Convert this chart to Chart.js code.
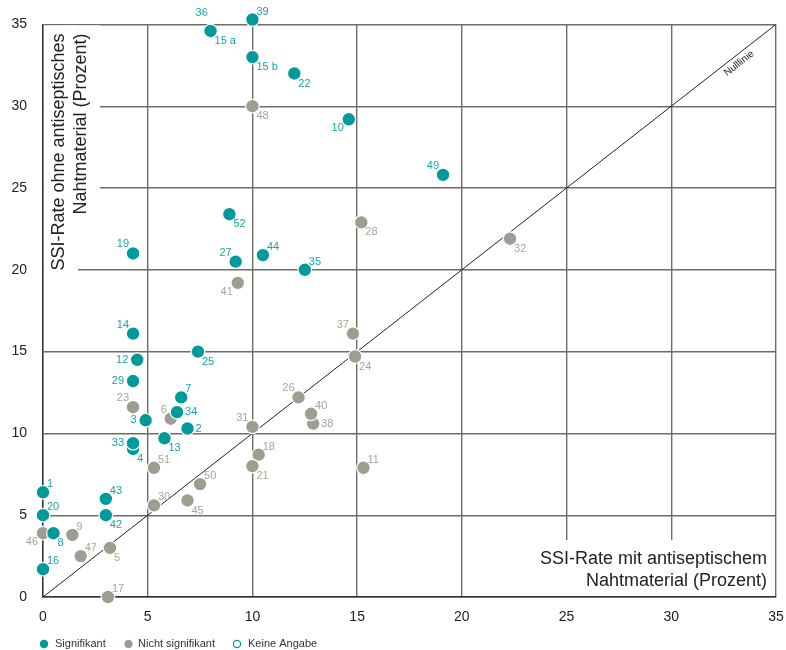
<!DOCTYPE html>
<html>
<head>
<meta charset="utf-8">
<script src="https://cdn.jsdelivr.net/npm/chart.js@4.4.0/dist/chart.umd.min.js"></script>
<style>
  html, body { margin: 0; padding: 0; background: #fff; }
</style>
</head>
<body>
<canvas id="ssiChart" width="786" height="650"></canvas>
<script>
// significant studies (teal)
const sigNames = ['39','15 a','15 b','22','10','49','52','19','27','44','35','14','25','12','29','7','34','3','2','13','4','33','1','43','20','42','8','16'];
const sigX = [10.0, 8.0, 10.0, 12.0, 14.6, 19.1, 8.9, 4.3, 9.2, 10.5, 12.5, 4.3, 7.4, 4.5, 4.3, 6.6, 6.4, 4.9, 6.9, 5.8, 4.3, 4.3, 0, 3.0, 0, 3.0, 0.5, 0];
const sigY = [35.3, 34.6, 33.0, 32.0, 29.2, 25.8, 23.4, 21.0, 20.5, 20.9, 20.0, 16.1, 15.0, 14.5, 13.2, 12.2, 11.3, 10.8, 10.3, 9.7, 9.05, 9.4, 6.4, 6.0, 5.0, 5.0, 3.9, 1.7];
// not significant (grey)
const nsNames = ['48','28','32','41','37','24','23','6','26','38','40','31','18','21','51','11','50','30','45','9','46','47','5','17'];
const nsX = [10.0, 15.2, 22.3, 9.3, 14.8, 14.9, 4.3, 6.1, 12.2, 12.9, 12.8, 10.0, 10.3, 10.0, 5.3, 15.3, 7.5, 5.3, 6.9, 1.4, 0, 1.8, 3.2, 3.1];
const nsY = [30.0, 22.9, 21.9, 19.2, 16.1, 14.7, 11.6, 10.9, 12.2, 10.6, 11.2, 10.4, 8.7, 8.0, 7.9, 7.9, 6.9, 5.6, 5.9, 3.8, 3.9, 2.5, 3.0, 0];
// no information (open circle)
const naNames = ['36'];
const naX = [8.3];
const naY = [35.7];

const axisTicks = [0, 5, 10, 15, 20, 25, 30, 35];

// where each label sits next to its dot
const sigPos = ['ne','se','se','se','sw','nw','se','nw','nw','ne','ne','nw','se','w','w','ne','e','w','e','se','se','w','ne','ne','ne','se','se','ne'];
const nsPos = ['se','se','se','sw','nw','se','nw','nw','nw','e','ne','nw','ne','se','ne','ne','ne','ne','se','ne','sw','ne','se','ne'];
const naPos = ['w'];

const teal = '#009a9a';
const tealText = '#17a7a7';
const grey = '#9e9d8f';
const greyText = '#a6a597';
const gridCol = '#6d6d66';
const fontFam = '"Liberation Sans", Arial, Helvetica, sans-serif';

function pts(xs, ys) {
  return xs.map((x, i) => ({ x: x, y: ys[i] }));
}

const offsets = {
  ne: { a: 'left', dx: 4, dy: -8 },
  se: { a: 'left', dx: 4, dy: 10 },
  nw: { a: 'right', dx: -4, dy: -9 },
  sw: { a: 'right', dx: -5, dy: 9 },
  e:  { a: 'left', dx: 8, dy: 0 },
  w:  { a: 'right', dx: -9, dy: 0 }
};

const overlayPlugin = {
  id: 'overlay',
  beforeDatasetsDraw(chart) {
    const ctx = chart.ctx;
    const area = chart.chartArea;
    ctx.save();
    ctx.font = '18px ' + fontFam;
    // y title, rotated, white box behind each line
    const yLines = ['SSI-Rate ohne antiseptisches', 'Nahtmaterial (Prozent)'];
    const yCenters = [59, 81];
    const topEnd = area.top + 9;
    yLines.forEach((t, i) => {
      const w = ctx.measureText(t).width;
      ctx.fillStyle = '#fff';
      const x0 = Math.max(area.left + 1, yCenters[i] - 18);
      ctx.fillRect(x0, topEnd - 8, yCenters[i] + 19 - x0, w + 16);
    });
    yLines.forEach((t, i) => {
      ctx.save();
      ctx.translate(yCenters[i], topEnd);
      ctx.rotate(-Math.PI / 2);
      ctx.fillStyle = '#222';
      ctx.textAlign = 'right';
      ctx.textBaseline = 'middle';
      ctx.fillText(t, 0, 0);
      ctx.restore();
    });
    // x title, bottom right
    const xLines = ['SSI-Rate mit antiseptischem', 'Nahtmaterial (Prozent)'];
    const xCenters = [559, 581];
    const rightEnd = area.right - 9;
    xLines.forEach((t, i) => {
      const w = ctx.measureText(t).width;
      ctx.fillStyle = '#fff';
      const top = i === 0 ? 540 : xCenters[i] - 12;
      ctx.fillRect(rightEnd - w - 8, top, area.right - 1 - (rightEnd - w - 8), area.bottom - 1 - top);
    });
    xLines.forEach((t, i) => {
      ctx.fillStyle = '#222';
      ctx.textAlign = 'right';
      ctx.textBaseline = 'middle';
      ctx.fillText(t, rightEnd, xCenters[i]);
    });
    ctx.restore();
  },
  afterDatasetsDraw(chart) {
    const ctx = chart.ctx;
    ctx.save();
    ctx.font = '11px ' + fontFam;
    ctx.textBaseline = 'middle';
    chart.data.datasets.forEach((ds, di) => {
      if (!ds.names) return;
      const meta = chart.getDatasetMeta(di);
      meta.data.forEach((el, i) => {
        const o = offsets[ds.pos[i]];
        ctx.fillStyle = ds.textColor;
        ctx.textAlign = o.a;
        ctx.fillText(ds.names[i], el.x + o.dx, el.y + o.dy);
      });
    });
    // Nulllinie label along the diagonal
    const xs = chart.scales.x, ys = chart.scales.y;
    const px = xs.getPixelForValue(33), py = ys.getPixelForValue(33);
    const ang = Math.atan2(ys.getPixelForValue(35) - ys.getPixelForValue(0), xs.getPixelForValue(35) - xs.getPixelForValue(0));
    ctx.translate(px, py);
    ctx.rotate(ang);
    ctx.fillStyle = '#222';
    ctx.textAlign = 'center';
    ctx.font = '10px ' + fontFam;
    ctx.fillText('Nulllinie', 0, 8);
    ctx.restore();
  },
  afterDraw(chart) {
    // legend row
    const ctx = chart.ctx;
    ctx.save();
    ctx.font = '11px ' + fontFam;
    ctx.textBaseline = 'middle';
    ctx.textAlign = 'left';
    const ly = 644;
    const items = [
      { cx: 44, tx: 55, t: 'Signifikant', fill: teal },
      { cx: 128.5, tx: 138, t: 'Nicht signifikant', fill: grey },
      { cx: 237, tx: 248, t: 'Keine Angabe', fill: null }
    ];
    items.forEach(it => {
      ctx.beginPath();
      ctx.arc(it.cx, ly, it.fill ? 4.2 : 3.6, 0, Math.PI * 2);
      if (it.fill) {
        ctx.fillStyle = it.fill;
        ctx.fill();
      } else {
        ctx.strokeStyle = teal;
        ctx.lineWidth = 1.2;
        ctx.stroke();
      }
      ctx.fillStyle = '#333';
      ctx.fillText(it.t, it.tx, ly);
    });
    ctx.restore();
  }
};

new Chart(document.getElementById('ssiChart'), {
  type: 'scatter',
  data: {
    datasets: [
      {
        label: 'Keine Angabe',
        data: pts(naX, naY),
        names: naNames, pos: naPos, textColor: tealText,
        backgroundColor: '#fff',
        borderColor: teal,
        borderWidth: 1.6,
        pointRadius: 6,
        clip: false
      },
      {
        label: 'Signifikant',
        data: pts(sigX, sigY),
        names: sigNames, pos: sigPos, textColor: tealText,
        backgroundColor: teal,
        borderColor: '#fff',
        borderWidth: 1.2,
        pointRadius: 6.8,
        clip: false
      },
      {
        label: 'Nicht signifikant',
        data: pts(nsX, nsY),
        names: nsNames, pos: nsPos, textColor: greyText,
        backgroundColor: grey,
        borderColor: '#fff',
        borderWidth: 1.2,
        pointRadius: 6.8,
        clip: false
      },
      {
        label: 'Nulllinie',
        type: 'line',
        data: [{ x: 0, y: 0 }, { x: 35, y: 35 }],
        borderColor: '#222',
        borderWidth: 1,
        pointRadius: 0,
        fill: false
      }
    ]
  },
  options: {
    responsive: false,
    animation: false,
    layout: { padding: { left: 0, right: 0, top: 22, bottom: 0 } },
    plugins: {
      legend: { display: false },
      tooltip: { enabled: false }
    },
    scales: {
      x: {
        type: 'linear',
        min: 0, max: 35,
        afterBuildTicks: s => { s.ticks = axisTicks.map(v => ({ value: v })); },
        afterFit: s => { s.height = 53; s.paddingRight = 10; s.paddingLeft = 0; },
        grid: { color: gridCol, lineWidth: 1.4, drawTicks: false },
        border: { color: '#333', width: 1.4 },
        ticks: { padding: 12, color: '#222', font: { size: 14, family: fontFam } }
      },
      y: {
        type: 'linear',
        min: 0, max: 35,
        afterBuildTicks: s => { s.ticks = axisTicks.map(v => ({ value: v })); },
        afterFit: s => { s.width = 43; },
        grid: { color: gridCol, lineWidth: 1.4, drawTicks: false },
        border: { color: '#333', width: 1.4 },
        ticks: { padding: 16, color: '#222', font: { size: 14, family: fontFam } }
      }
    }
  },
  plugins: [overlayPlugin]
});
</script>
</body>
</html>
